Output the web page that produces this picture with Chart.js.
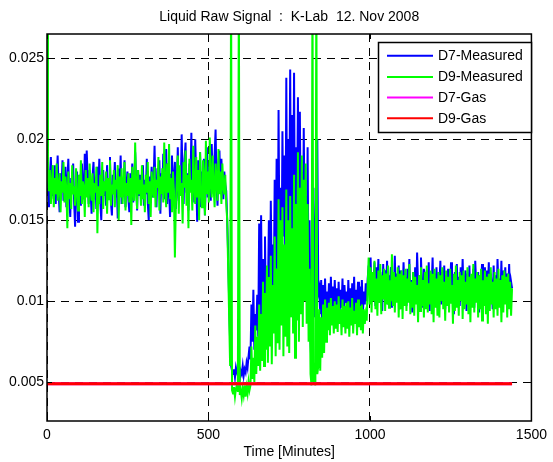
<!DOCTYPE html>
<html>
<head>
<meta charset="utf-8">
<script src="https://cdn.jsdelivr.net/npm/chart.js@4/dist/chart.umd.min.js"></script>
<style>
  html, body { margin: 0; padding: 0; background: #fff; }
  #wrap { width: 553px; height: 462px; }
</style>
</head>
<body>
<div id="wrap"><canvas id="signalChart" width="553" height="462"></canvas></div>
<script>
// sample spacing of the measured signals, minutes
const sampleStep = 3;

// D7-Measured (blue)
const d7Measured = [
  0.0186, 0.0172, 0.0158, 0.0177, 0.0189, 0.0165, 0.0170, 0.0163, 0.0184, 0.0160,
  0.0175, 0.0190, 0.0168, 0.0155, 0.0179, 0.0171, 0.0187, 0.0162, 0.0166, 0.0183,
  0.0158, 0.0174, 0.0188, 0.0164, 0.0152, 0.0176, 0.0169, 0.0185, 0.0161, 0.0146,
  0.0172, 0.0180, 0.0149, 0.0167, 0.0178, 0.0159, 0.0185, 0.0170, 0.0163, 0.0191,
  0.0166, 0.0193, 0.0175, 0.0160, 0.0181, 0.0168, 0.0154, 0.0177, 0.0186, 0.0163,
  0.0172, 0.0157, 0.0183, 0.0169, 0.0188, 0.0162, 0.0150, 0.0176, 0.0181, 0.0165,
  0.0171, 0.0159, 0.0184, 0.0167, 0.0175, 0.0189, 0.0161, 0.0153, 0.0178, 0.0170,
  0.0186, 0.0164, 0.0173, 0.0151, 0.0182, 0.0168, 0.0190, 0.0160, 0.0176, 0.0166,
  0.0187, 0.0158, 0.0171, 0.0180, 0.0163, 0.0155, 0.0179, 0.0170, 0.0185, 0.0161,
  0.0168, 0.0192, 0.0174, 0.0156, 0.0181, 0.0165, 0.0178, 0.0162, 0.0170, 0.0184,
  0.0159, 0.0175, 0.0166, 0.0188, 0.0161, 0.0150, 0.0177, 0.0169, 0.0183, 0.0164,
  0.0173, 0.0196, 0.0168, 0.0158, 0.0182, 0.0171, 0.0187, 0.0154, 0.0179, 0.0166,
  0.0191, 0.0163, 0.0174, 0.0194, 0.0160, 0.0185, 0.0169, 0.0152, 0.0178, 0.0190,
  0.0165, 0.0176, 0.0186, 0.0157, 0.0170, 0.0195, 0.0162, 0.0181, 0.0168, 0.0203,
  0.0174, 0.0160, 0.0188, 0.0198, 0.0167, 0.0179, 0.0156, 0.0185, 0.0171, 0.0204,
  0.0166, 0.0183, 0.0161, 0.0200, 0.0176, 0.0149, 0.0187, 0.0170, 0.0192, 0.0158,
  0.0180, 0.0173, 0.0188, 0.0153, 0.0176, 0.0195, 0.0164, 0.0183, 0.0170, 0.0162,
  0.0197, 0.0175, 0.0166, 0.0190, 0.0206, 0.0172, 0.0159, 0.0185, 0.0193, 0.0168,
  0.0188, 0.0175, 0.0163, 0.0180, 0.0172, 0.0168,
  0.0150, 0.0128, 0.0100, 0.0075, 0.0060,
  0.0057, 0.0055, 0.0058, 0.0053, 0.0059, 0.0056, 0.0054, 0.0058, 0.0052, 0.0057,
  0.0055, 0.0060, 0.0054, 0.0058, 0.0056, 0.0062, 0.0059, 0.0066, 0.0072,
  0.0064, 0.0098, 0.0075, 0.0107, 0.0070, 0.0092, 0.0082, 0.0104, 0.0078, 0.0148,
  0.0090, 0.0153, 0.0085, 0.0126, 0.0097, 0.0140, 0.0088, 0.0118, 0.0102, 0.0150,
  0.0095, 0.0162, 0.0110, 0.0135, 0.0100, 0.0175, 0.0120, 0.0188, 0.0105, 0.0218,
  0.0125, 0.0170, 0.0112, 0.0205, 0.0140, 0.0190, 0.0118, 0.0238, 0.0130, 0.0200,
  0.0150, 0.0243, 0.0122, 0.0215, 0.0138, 0.0241, 0.0128, 0.0195, 0.0145, 0.0226,
  0.0120, 0.0217, 0.0132, 0.0180, 0.0112, 0.0207, 0.0140, 0.0165, 0.0118, 0.0195,
  0.0100, 0.0150, 0.0075, 0.0060, 0.0120, 0.0170, 0.0090, 0.0140, 0.0175, 0.0200,
  0.0105, 0.0108, 0.0092, 0.0113, 0.0088, 0.0110, 0.0096, 0.0114, 0.0089, 0.0106,
  0.0093, 0.0111, 0.0087, 0.0115, 0.0094, 0.0109, 0.0090, 0.0113, 0.0095, 0.0108,
  0.0088, 0.0112, 0.0092, 0.0107, 0.0096, 0.0114, 0.0086, 0.0110, 0.0099, 0.0106,
  0.0091, 0.0113, 0.0095, 0.0108, 0.0089, 0.0111, 0.0093, 0.0115, 0.0090, 0.0107,
  0.0097, 0.0112, 0.0088, 0.0109, 0.0094, 0.0113, 0.0092, 0.0106, 0.0098, 0.0111,
  0.0100,
  0.0114, 0.0122, 0.0104, 0.0127, 0.0101, 0.0118, 0.0108, 0.0124, 0.0097, 0.0121,
  0.0105, 0.0126, 0.0099, 0.0118, 0.0112, 0.0094, 0.0123, 0.0102, 0.0119, 0.0108,
  0.0125, 0.0098, 0.0116, 0.0110, 0.0121, 0.0096, 0.0114, 0.0104, 0.0128, 0.0100,
  0.0117, 0.0107, 0.0122, 0.0095, 0.0119, 0.0111, 0.0101, 0.0124, 0.0106, 0.0115,
  0.0097, 0.0120, 0.0109, 0.0126, 0.0102, 0.0113, 0.0093, 0.0118, 0.0105, 0.0121,
  0.0099, 0.0130, 0.0110, 0.0116, 0.0103, 0.0127, 0.0108, 0.0096, 0.0120, 0.0112,
  0.0101, 0.0119, 0.0106, 0.0124, 0.0094, 0.0115, 0.0109, 0.0127, 0.0100, 0.0117,
  0.0104, 0.0121, 0.0096, 0.0113, 0.0110, 0.0125, 0.0098, 0.0118, 0.0107, 0.0122,
  0.0095, 0.0116, 0.0103, 0.0120, 0.0111, 0.0099, 0.0124, 0.0105, 0.0114, 0.0092,
  0.0118, 0.0108, 0.0123, 0.0100, 0.0115, 0.0097, 0.0121, 0.0106, 0.0126, 0.0102,
  0.0112, 0.0119, 0.0094, 0.0117, 0.0109, 0.0122, 0.0098, 0.0114, 0.0104, 0.0120,
  0.0096, 0.0125, 0.0110, 0.0101, 0.0118, 0.0093, 0.0116, 0.0107, 0.0123, 0.0099,
  0.0113, 0.0121, 0.0097, 0.0119, 0.0105, 0.0124, 0.0100, 0.0117, 0.0110, 0.0095,
  0.0122, 0.0103, 0.0116, 0.0098, 0.0126, 0.0108, 0.0114, 0.0101, 0.0125, 0.0097,
  0.0119, 0.0106, 0.0121, 0.0099, 0.0117, 0.0104, 0.0123, 0.0102, 0.0112, 0.0108
];

// D9-Measured (green)
const d9Measured = [
  0.0300, 0.0175, 0.0168, 0.0181, 0.0160, 0.0172, 0.0184, 0.0158, 0.0176, 0.0166,
  0.0185, 0.0162, 0.0170, 0.0179, 0.0155, 0.0174, 0.0167, 0.0186, 0.0161, 0.0177,
  0.0169, 0.0145, 0.0180, 0.0163, 0.0173, 0.0157, 0.0184, 0.0166, 0.0171, 0.0159,
  0.0182, 0.0168, 0.0156, 0.0178, 0.0165, 0.0187, 0.0160, 0.0174, 0.0170, 0.0152,
  0.0181, 0.0164, 0.0176, 0.0158, 0.0185, 0.0169, 0.0162, 0.0179, 0.0155, 0.0173,
  0.0167, 0.0183, 0.0142, 0.0171, 0.0160, 0.0178, 0.0165, 0.0186, 0.0157, 0.0174,
  0.0168, 0.0180, 0.0154, 0.0176, 0.0163, 0.0187, 0.0159, 0.0172, 0.0166, 0.0181,
  0.0158, 0.0175, 0.0169, 0.0184, 0.0150, 0.0177, 0.0164, 0.0182, 0.0160, 0.0171,
  0.0186, 0.0156, 0.0173, 0.0165, 0.0179, 0.0161, 0.0176, 0.0147, 0.0183, 0.0168,
  0.0162, 0.0198, 0.0170, 0.0157, 0.0181, 0.0166, 0.0175, 0.0159, 0.0184, 0.0163,
  0.0172, 0.0155, 0.0178, 0.0167, 0.0186, 0.0160, 0.0174, 0.0152, 0.0180, 0.0169,
  0.0164, 0.0183, 0.0158, 0.0175, 0.0170, 0.0189, 0.0156, 0.0177, 0.0166, 0.0182,
  0.0161, 0.0198, 0.0172, 0.0158, 0.0185, 0.0167, 0.0197, 0.0163, 0.0176, 0.0155,
  0.0180, 0.0168, 0.0127, 0.0160, 0.0176, 0.0190, 0.0154, 0.0184, 0.0165, 0.0173,
  0.0148, 0.0186, 0.0170, 0.0193, 0.0159, 0.0178, 0.0145, 0.0188, 0.0167, 0.0175,
  0.0156, 0.0196, 0.0171, 0.0160, 0.0189, 0.0164, 0.0181, 0.0150, 0.0192, 0.0169,
  0.0158, 0.0187, 0.0174, 0.0153, 0.0199, 0.0166, 0.0180, 0.0161, 0.0201, 0.0172,
  0.0164, 0.0190, 0.0170, 0.0158, 0.0185, 0.0175, 0.0162, 0.0194, 0.0166, 0.0180,
  0.0160, 0.0185, 0.0171, 0.0166, 0.0178, 0.0160,
  0.0150, 0.0120, 0.0090, 0.0060, 0.0300,
  0.0045, 0.0043, 0.0047, 0.0041, 0.0046, 0.0048, 0.0044, 0.0300, 0.0042, 0.0045,
  0.0040, 0.0046, 0.0042, 0.0048, 0.0041, 0.0047, 0.0043, 0.0050, 0.0045,
  0.0048, 0.0072, 0.0052, 0.0065, 0.0050, 0.0085, 0.0055, 0.0078, 0.0060, 0.0098,
  0.0057, 0.0092, 0.0063, 0.0112, 0.0060, 0.0105, 0.0070, 0.0122, 0.0062, 0.0115,
  0.0072, 0.0128, 0.0061, 0.0110, 0.0080, 0.0140, 0.0066, 0.0120, 0.0074, 0.0163,
  0.0070, 0.0150, 0.0085, 0.0158, 0.0066, 0.0135, 0.0078, 0.0169, 0.0072, 0.0150,
  0.0068, 0.0165, 0.0090, 0.0145, 0.0080, 0.0178, 0.0065, 0.0160, 0.0088, 0.0192,
  0.0075, 0.0170, 0.0092, 0.0190, 0.0084, 0.0175, 0.0100, 0.0185, 0.0086, 0.0160,
  0.0075, 0.0120, 0.0055, 0.0048, 0.0300, 0.0050, 0.0062, 0.0048, 0.0300, 0.0055,
  0.0060, 0.0095, 0.0057, 0.0090, 0.0065, 0.0098, 0.0068, 0.0101, 0.0075, 0.0096,
  0.0082, 0.0099, 0.0079, 0.0102, 0.0085, 0.0097, 0.0080, 0.0100, 0.0083, 0.0098,
  0.0081, 0.0103, 0.0086, 0.0095, 0.0079, 0.0101, 0.0084, 0.0097, 0.0080, 0.0099,
  0.0083, 0.0100, 0.0078, 0.0096, 0.0085, 0.0102, 0.0080, 0.0094, 0.0086, 0.0099,
  0.0079, 0.0101, 0.0084, 0.0097, 0.0082, 0.0098, 0.0080, 0.0095, 0.0086, 0.0092,
  0.0088,
  0.0110, 0.0127, 0.0098, 0.0121, 0.0093, 0.0118, 0.0100, 0.0125, 0.0095, 0.0114,
  0.0091, 0.0119, 0.0099, 0.0123, 0.0092, 0.0116, 0.0101, 0.0120, 0.0094, 0.0117,
  0.0098, 0.0122, 0.0096, 0.0113, 0.0100, 0.0129, 0.0097, 0.0118, 0.0093, 0.0115,
  0.0099, 0.0121, 0.0090, 0.0117, 0.0095, 0.0119, 0.0089, 0.0116, 0.0097, 0.0120,
  0.0094, 0.0114, 0.0099, 0.0123, 0.0092, 0.0112, 0.0096, 0.0118, 0.0091, 0.0115,
  0.0098, 0.0110, 0.0087, 0.0116, 0.0094, 0.0121, 0.0097, 0.0113, 0.0090, 0.0118,
  0.0095, 0.0122, 0.0093, 0.0111, 0.0098, 0.0119, 0.0092, 0.0117, 0.0087, 0.0120,
  0.0096, 0.0114, 0.0091, 0.0118, 0.0090, 0.0116, 0.0100, 0.0121, 0.0095, 0.0112,
  0.0088, 0.0119, 0.0097, 0.0115, 0.0093, 0.0120, 0.0099, 0.0110, 0.0086, 0.0117,
  0.0094, 0.0122, 0.0096, 0.0113, 0.0091, 0.0118, 0.0100, 0.0116, 0.0089, 0.0119,
  0.0095, 0.0112, 0.0098, 0.0121, 0.0092, 0.0115, 0.0087, 0.0117, 0.0096, 0.0123,
  0.0093, 0.0114, 0.0099, 0.0118, 0.0090, 0.0116, 0.0095, 0.0120, 0.0088, 0.0113,
  0.0097, 0.0119, 0.0092, 0.0115, 0.0086, 0.0117, 0.0094, 0.0121, 0.0098, 0.0112,
  0.0090, 0.0118, 0.0095, 0.0114, 0.0091, 0.0120, 0.0096, 0.0113, 0.0087, 0.0116,
  0.0093, 0.0119, 0.0098, 0.0115, 0.0090, 0.0117, 0.0095, 0.0112, 0.0091, 0.0108
];

// gas reference lines (start / end of run)
const gasTime = [0, 1440];
const d7Gas = [0.0049, 0.0049];
const d9Gas = [0.0049, 0.0049];

const xTicks = [0, 500, 1000, 1500];
const yTicks = [0.005, 0.01, 0.015, 0.02, 0.025];

const seriesLabels = ["D7-Measured", "D9-Measured", "D7-Gas", "D9-Gas"];
const seriesColors = ["#0000ff", "#00ff00", "#ff00ff", "#ff0000"];

const FONT = "'Liberation Sans', Arial, sans-serif";

function toPoints(xs, ys) {
    return ys.map((y, i) => ({ x: xs[i], y: y }));
}
const sampleTime = d7Measured.map((_, i) => i * sampleStep);

// axes box, inward ticks, title, x label and boxed legend (matlab look)
const matlabFrame = {
    id: "matlabFrame",
    afterDraw(chart) {
        const ctx = chart.ctx;
        const a = chart.chartArea;
        const xs = chart.scales.x, ys = chart.scales.y;
        ctx.save();
        ctx.strokeStyle = "#000";
        ctx.lineWidth = 1;
        ctx.beginPath();
        xTicks.forEach(v => {
            const px = Math.round(xs.getPixelForValue(v)) + 0.5;
            ctx.moveTo(px, a.bottom); ctx.lineTo(px, a.bottom - 5);
            ctx.moveTo(px, a.top); ctx.lineTo(px, a.top + 5);
        });
        yTicks.forEach(v => {
            const py = Math.round(ys.getPixelForValue(v)) + 0.5;
            ctx.moveTo(a.left, py); ctx.lineTo(a.left + 5, py);
            ctx.moveTo(a.right, py); ctx.lineTo(a.right - 5, py);
        });
        ctx.stroke();

        ctx.lineWidth = 1.5;
        ctx.strokeRect(a.left, a.top, a.right - a.left, a.bottom - a.top);

        // title and x label
        ctx.fillStyle = "#000";
        ctx.font = "14px " + FONT;
        ctx.textAlign = "center";
        ctx.textBaseline = "middle";
        const cx = (a.left + a.right) / 2;
        ctx.fillText("Liquid Raw Signal  :  K-Lab  12. Nov 2008", cx, 17);
        ctx.fillText("Time [Minutes]", cx, 452);

        // legend box
        const lx = 378.5, ly = 42.5, lw = 153, lh = 90;
        ctx.fillStyle = "#fff";
        ctx.fillRect(lx, ly, lw, lh);
        ctx.lineWidth = 1.5;
        ctx.strokeRect(lx, ly, lw, lh);
        const rows = [55.7, 77, 97.5, 118.3];
        ctx.textAlign = "left";
        seriesLabels.forEach((lab, i) => {
            ctx.strokeStyle = seriesColors[i];
            ctx.lineWidth = 2;
            ctx.beginPath();
            ctx.moveTo(387, rows[i]);
            ctx.lineTo(433, rows[i]);
            ctx.stroke();
            ctx.fillStyle = "#000";
            ctx.fillText(lab, 438, rows[i] + 0.5);
        });
        ctx.restore();
    }
};

new Chart(document.getElementById("signalChart"), {
    type: "line",
    data: {
        datasets: [
            { label: seriesLabels[0], data: toPoints(sampleTime, d7Measured), borderColor: seriesColors[0], borderWidth: 2, order: 3 },
            { label: seriesLabels[1], data: toPoints(sampleTime, d9Measured), borderColor: seriesColors[1], borderWidth: 2, order: 2 },
            { label: seriesLabels[2], data: toPoints(gasTime, d7Gas), borderColor: seriesColors[2], borderWidth: 3, order: 1 },
            { label: seriesLabels[3], data: toPoints(gasTime, d9Gas), borderColor: seriesColors[3], borderWidth: 3, order: 0 }
        ]
    },
    options: {
        responsive: false,
        animation: false,
        devicePixelRatio: 1,
        layout: { padding: { top: 34, right: 15, left: 0, bottom: 0 } },
        elements: { point: { radius: 0 }, line: { tension: 0, borderJoinStyle: "miter" } },
        plugins: { legend: { display: false }, title: { display: false }, tooltip: { enabled: false } },
        scales: {
            x: {
                type: "linear",
                min: 0,
                max: 1500,
                afterBuildTicks: scale => { scale.ticks = xTicks.map(v => ({ value: v })); },
                afterFit: scale => { scale.height = 41; },
                grid: { color: "#000", lineWidth: 1, drawTicks: false },
                border: { display: false, dash: [8, 6] },
                ticks: {
                    color: "#000",
                    font: { family: FONT, size: 14 },
                    padding: 6,
                    maxRotation: 0,
                    autoSkip: false,
                    callback: v => String(v)
                }
            },
            y: {
                type: "linear",
                min: 0.0026,
                max: 0.0265,
                afterBuildTicks: scale => { scale.ticks = yTicks.map(v => ({ value: v })); },
                afterFit: scale => { scale.width = 47; },
                grid: { color: "#000", lineWidth: 1, drawTicks: false },
                border: { display: false, dash: [8, 6] },
                ticks: {
                    color: "#000",
                    font: { family: FONT, size: 14 },
                    padding: 3,
                    callback: v => String(Number(v.toFixed(3)))
                }
            }
        }
    },
    plugins: [matlabFrame]
});
</script>
</body>
</html>
